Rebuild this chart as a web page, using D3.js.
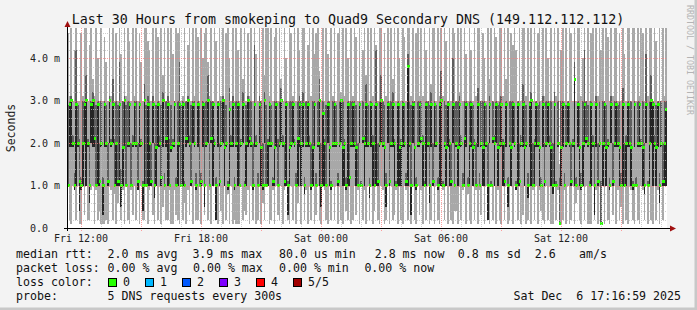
<!DOCTYPE html>
<html>
<head>
<meta charset="utf-8">
<title>Last 30 Hours from smokeping to Quad9 Secondary DNS</title>
<script src="https://cdn.jsdelivr.net/npm/d3@7"></script>
<style>
body { margin: 0; background: #f3f3f3; }
svg { display: block; font-family: "DejaVu Sans Mono", monospace; }
</style>
</head>
<body>
<script>
// five DNS requests per 5 minute step, round trip in ms (sorted per step below)
var ping1 = [
1.0,0.2,0.1,1.0,0.9,0.2,1.0,0.1,0.1,1.0,0.3,1.0,0.2,0.2,0.9,1.0,0.1,1.0,0.2,0.4,
0.1,0.1,0.1,0.2,0.1,1.0,0.9,0.2,1.0,0.1,0.6,1.0,0.2,0.9,0.1,1.0,0.2,0.1,1.0,0.3,
1.0,0.2,0.9,0.1,1.0,0.2,0.2,1.0,0.1,0.9,1.0,0.3,0.1,1.0,0.2,1.0,0.1,0.5,1.0,0.2,
0.2,1.0,0.1,0.1,0.9,1.0,0.2,0.1,1.0,0.2,1.0,0.1,0.9,0.3,1.0,0.1,1.0,0.2,0.2,1.0,
0.1,1.0,0.3,1.0,0.2,0.9,0.1,1.0,1.0,0.2,0.1,1.0,0.4,0.1,1.0,0.2,0.9,0.1,1.0,0.1,
0.2,0.1,0.1,0.1,1.0,0.2,1.0,0.3,0.9,0.1,1.0,0.2,1.0,0.1,0.2,1.0,0.1,0.9,0.2,1.0,
1.0,0.1,0.2,1.0,0.1,1.0,0.3,0.2,1.0,0.1,0.9,1.0,0.2,0.1,1.0,0.2,1.0,0.1,0.6,1.0,
0.1,1.0,0.2,0.9,0.1,1.0,0.2,1.0,0.1,0.3,1.0,0.2,0.1,1.0,0.9,0.2,0.1,1.0,0.2,1.0,
0.2,1.0,0.1,1.0,0.2,0.1,1.0,0.9,0.2,1.0,0.1,0.2,1.0,0.3,1.0,0.1,1.0,0.2,0.9,0.1,
1.0,0.2,1.0,0.1,0.4,1.0,0.2,0.1,1.0,0.9,0.1,0.2,1.0,0.1,1.0,0.2,0.3,1.0,0.1,1.0,
0.2,0.1,1.0,0.9,0.2,1.0,0.1,1.0,0.2,0.1,1.0,0.3,0.9,0.1,1.0,0.2,1.0,0.1,0.2,1.0,
0.1,1.0,0.2,0.1,1.0,0.9,0.2,1.0,0.1,1.0,0.2,0.1,1.0,0.4,0.1,1.0,0.2,0.9,1.0,0.1,
1.0,0.2,0.1,1.0,0.2,1.0,0.1,0.9,0.3,1.0,0.1,1.0,0.2,0.1,1.0,0.2,1.0,0.1,0.9,0.2,
0.1,1.0,0.2,1.0,0.1,0.2,1.0,0.1,1.0,0.9,0.2,1.0,0.1,0.3,1.0,0.1,0.2,1.0,0.1,1.0,
0.2,1.0,0.1,0.9,1.0,0.2,0.1,1.0,0.2,1.0,0.1,0.1,1.0,0.2,0.9,0.1,0.1,0.2,1.0,0.1,
1.0,0.1,0.2,1.0,0.1,1.0,0.9,0.2,0.1,1.0,0.2,1.0,0.1,0.1,0.1,1.0,0.2,0.9,0.1,1.0,
0.1,1.0,0.1,1.0,0.2,0.1,1.0,0.3,1.0,0.1,0.9,0.2,1.0,0.1,1.0,0.2,0.1,1.0,0.9,0.2,
0.1,1.0,0.2,0.1,1.0,0.9,0.2,1.0,0.1,1.0,0.2,0.1,1.0,0.2,0.9,0.1,1.0,0.2,1.0,1.0
];
var ping2 = [
1.0,1.9,1.9,1.9,0.9,1.0,1.9,0.4,0.9,1.0,2.0,1.0,1.9,0.6,2.0,1.9,1.9,0.9,1.0,1.0,
1.9,0.3,1.9,1.9,1.0,2.0,1.9,2.0,0.8,1.0,1.0,1.0,0.5,1.0,1.9,1.0,1.9,1.9,0.9,1.9,
2.0,1.9,0.9,1.9,1.9,0.4,1.0,1.0,1.0,1.0,1.0,2.0,0.7,1.0,1.9,1.9,1.0,1.9,0.9,1.9,
1.0,0.9,1.8,1.9,1.9,0.3,1.0,1.9,1.0,1.0,0.6,1.9,2.0,1.9,1.0,2.0,1.9,0.9,1.9,1.0,
1.0,1.9,0.5,1.9,2.0,1.0,2.0,1.0,1.9,0.2,1.9,1.0,1.9,2.0,1.0,1.9,0.8,1.0,1.9,1.9,
0.9,1.9,1.0,1.0,1.9,2.0,0.4,1.0,1.9,2.0,1.9,0.9,1.9,1.9,1.0,2.0,1.0,0.6,2.0,1.0,
1.0,1.9,1.9,0.9,1.0,1.9,1.0,1.9,2.0,1.9,1.0,1.0,0.3,1.0,1.9,2.0,1.9,1.0,1.0,1.9,
1.0,1.9,0.8,1.9,1.9,1.9,0.9,1.0,1.9,1.0,1.9,1.0,0.5,1.0,1.0,1.0,2.0,1.0,0.9,1.9,
1.9,1.9,1.0,1.9,2.0,1.0,1.0,0.4,1.0,1.0,1.9,1.9,1.9,1.0,0.9,2.0,1.0,2.0,1.0,1.9,
1.9,0.7,1.9,1.0,1.0,1.0,1.0,1.9,2.0,1.9,1.0,0.5,2.0,1.0,1.9,1.9,1.0,0.9,1.0,1.0,
1.0,1.9,1.9,1.0,1.0,1.9,0.3,2.0,1.0,0.9,1.9,1.9,2.0,1.0,1.0,1.0,1.9,0.6,1.9,1.0,
1.9,1.9,0.9,1.0,1.0,1.0,1.9,1.0,1.9,1.0,1.0,2.0,0.4,1.9,1.0,1.9,1.9,1.0,1.0,1.9,
0.8,1.0,1.9,1.0,1.9,0.9,1.9,1.0,1.9,1.0,1.0,1.9,0.2,2.0,1.0,2.0,1.0,2.0,1.0,1.9,
1.9,1.0,1.0,1.9,0.5,1.9,1.0,2.0,1.9,0.9,1.0,1.0,1.9,1.9,1.0,1.9,0.7,1.9,1.0,0.9,
1.0,1.9,1.9,1.0,0.4,1.9,1.0,1.9,2.0,1.9,1.0,0.8,1.0,1.0,1.9,0.1,1.0,1.9,0.9,1.9,
2.0,1.9,1.0,1.9,1.0,0.6,1.9,1.0,0.9,1.0,1.9,2.0,1.9,1.0,1.0,1.9,0.3,1.9,1.0,1.9,
0.1,1.0,1.9,1.0,1.9,0.9,2.0,1.0,1.9,1.9,1.9,1.0,0.5,1.0,1.0,1.0,1.9,1.9,1.0,0.9,
1.9,1.0,1.9,1.9,1.9,1.0,0.8,2.0,1.0,1.0,2.0,1.0,1.9,1.0,1.9,0.6,1.9,1.0,1.0,1.0
];
var ping3 = [
1.0,2.9,3.0,2.0,1.0,2.9,2.0,1.1,1.0,2.0,2.9,3.0,2.0,1.0,2.9,3.0,2.1,1.0,2.9,1.1,
2.0,1.0,2.9,2.0,1.1,3.0,2.0,2.9,1.0,2.0,1.1,2.9,1.0,1.9,3.0,1.0,2.0,2.9,1.0,2.0,
2.9,2.0,1.1,2.9,2.0,1.0,3.0,1.0,2.9,2.0,1.1,2.9,1.0,1.9,2.9,2.0,1.2,3.0,1.0,2.1,
2.9,1.0,1.9,2.0,2.9,1.0,2.0,2.9,1.0,2.9,1.0,2.1,3.0,2.0,1.1,2.9,2.0,1.0,2.9,1.0,
1.1,2.9,1.0,2.0,3.0,1.0,2.1,2.9,2.0,1.0,2.9,1.1,2.0,3.0,1.9,2.0,1.0,2.8,2.0,2.9,
1.0,2.0,2.9,1.0,2.0,2.9,1.0,2.0,3.0,2.1,2.0,1.0,2.9,2.0,1.0,2.9,1.9,1.0,3.0,1.0,
2.0,2.9,2.0,1.1,1.9,2.9,1.0,2.0,3.0,2.0,1.1,2.9,1.0,1.9,2.0,2.9,2.0,1.0,2.1,2.9,
2.0,2.9,1.0,2.0,2.9,2.0,1.0,1.9,2.9,1.0,2.0,3.0,1.0,2.7,2.0,1.0,2.9,1.9,1.0,2.0,
2.9,2.0,1.1,2.0,3.0,1.9,2.0,1.0,2.9,1.2,2.0,2.9,2.0,1.9,1.0,2.9,1.0,2.1,2.0,2.9,
2.0,1.0,2.9,2.0,1.0,2.9,1.1,2.0,3.0,2.0,1.9,1.0,2.9,1.1,2.0,2.9,2.0,1.0,2.9,1.9,
2.0,2.9,2.0,1.1,3.8,2.0,1.0,2.9,1.9,1.0,2.0,2.9,2.1,2.0,1.0,2.9,2.0,1.0,2.9,1.1,
2.9,2.0,1.0,2.9,3.0,1.0,2.0,1.9,2.9,2.0,1.1,2.9,1.0,2.0,1.9,2.9,2.0,1.0,2.1,2.9,
1.0,2.0,2.9,1.9,2.0,1.0,2.9,1.0,2.0,1.9,2.9,2.0,1.0,2.9,1.0,2.1,2.0,2.9,1.9,2.0,
2.9,2.0,1.1,2.9,1.0,2.0,1.9,2.9,2.0,1.0,2.9,1.1,2.0,2.9,1.9,2.0,1.0,2.9,3.0,1.0,
2.0,2.9,2.0,1.9,1.0,2.9,1.1,2.0,2.9,2.0,1.9,1.0,2.9,1.0,2.0,0.1,1.9,2.9,1.0,2.0,
2.9,2.0,1.1,2.0,3.5,1.0,2.9,1.9,1.0,2.0,2.9,2.1,2.0,1.0,2.9,2.0,1.0,2.9,1.1,2.0,
0.1,2.0,2.9,1.9,2.0,1.0,2.9,1.1,2.0,2.9,2.0,1.9,1.0,2.9,1.0,2.0,2.9,2.0,1.9,1.0,
2.9,1.0,2.0,2.9,2.0,1.9,1.0,2.9,1.0,2.0,3.0,2.9,2.0,1.9,2.9,1.0,2.0,1.1,2.0,2.8
];
var ping4 = [
2.9,3.0,3.1,2.2,1.3,4.2,2.9,2.1,1.2,3.0,3.0,3.6,2.1,2.0,3.0,3.2,3.0,2.9,3.0,2.0,
3.0,1.2,3.0,2.9,2.0,3.1,2.1,3.5,2.1,3.0,2.9,3.9,1.4,3.0,3.1,2.9,3.0,3.0,2.0,2.2,
3.0,3.0,2.0,3.0,2.1,1.1,3.4,2.9,4.4,3.0,2.0,3.1,2.0,2.9,3.0,2.2,2.9,3.2,1.3,3.0,
3.1,2.1,2.9,2.1,3.0,1.2,3.0,3.9,2.9,3.0,1.1,3.0,3.1,2.2,2.9,3.0,3.0,1.3,3.0,2.9,
1.3,4.0,2.9,3.0,3.6,2.0,3.0,3.0,2.1,1.2,3.0,2.0,3.0,3.1,3.0,2.9,1.1,3.3,2.2,3.1,
1.2,3.0,3.0,2.9,2.1,3.2,1.1,2.9,3.1,3.0,3.0,2.0,4.3,2.2,1.3,3.1,3.0,2.0,3.2,2.9,
2.1,3.0,2.9,1.2,3.0,3.0,2.1,3.0,3.3,2.2,2.0,3.0,1.1,3.0,3.0,3.0,2.1,1.3,3.0,3.1,
3.0,3.2,1.2,3.0,3.0,2.2,2.0,3.0,4.1,1.3,3.0,3.5,2.0,3.0,2.1,2.9,3.0,3.0,1.1,3.0,
3.0,2.9,1.3,3.0,3.2,3.0,2.1,1.2,3.0,2.9,3.0,3.1,3.0,2.9,2.0,3.0,1.1,3.0,2.2,3.4,
2.9,1.2,3.0,2.2,2.9,4.2,2.0,3.0,3.6,3.0,2.9,1.3,3.0,2.9,3.0,3.2,2.1,1.1,3.0,2.9,
2.1,3.0,2.9,1.3,4.1,3.0,2.9,3.0,3.0,1.2,3.0,3.1,3.0,2.2,1.1,3.0,3.0,2.9,3.2,2.0,
3.0,2.9,1.2,3.1,3.7,1.1,3.0,2.9,3.0,2.1,2.0,4.0,2.9,3.0,3.0,3.1,2.2,1.3,3.0,3.0,
1.2,3.0,3.0,2.9,2.1,2.0,3.3,1.3,3.0,3.0,3.0,2.9,2.0,3.1,1.1,3.0,2.2,3.0,2.9,3.0,
3.1,2.1,2.0,3.0,1.2,3.0,3.0,4.3,2.9,1.1,3.0,2.0,2.2,3.4,3.0,2.9,1.3,3.0,3.2,2.0,
2.1,3.0,2.9,3.0,1.2,3.1,2.0,3.0,3.0,2.2,3.0,2.0,3.2,1.1,3.0,1.2,3.0,3.0,1.3,2.9,
3.0,2.9,2.0,2.1,3.9,1.2,3.0,2.9,1.3,3.0,4.2,3.0,2.9,1.1,3.0,2.2,2.0,3.1,2.0,3.0,
1.1,3.0,3.0,2.9,2.1,1.2,3.1,2.0,3.0,3.0,2.9,3.0,1.3,3.3,2.0,2.2,3.0,2.9,3.0,1.1,
3.0,1.2,3.0,3.1,2.1,3.0,2.0,4.1,1.1,3.0,3.6,3.0,2.2,2.9,3.0,1.3,3.0,2.0,3.0,3.0
];
var ping5 = [
4.6,3.1,4.7,3.0,4.2,4.7,3.0,3.0,4.6,3.1,4.7,4.7,3.0,4.3,4.7,3.5,3.1,4.7,4.0,3.0,
4.7,3.0,4.5,3.9,3.0,4.7,3.1,4.7,3.0,4.6,3.0,4.7,4.1,3.0,4.7,3.1,4.7,4.4,3.0,4.7,
3.1,4.7,3.0,4.6,3.9,3.0,4.7,4.7,3.1,4.2,3.0,4.7,3.0,4.7,4.5,3.0,4.7,3.6,4.7,3.0,
4.7,3.0,4.7,4.1,3.0,4.7,4.6,4.7,3.0,3.1,4.7,3.0,4.3,4.7,3.0,4.7,3.1,4.7,4.5,3.0,
4.7,3.0,4.6,4.7,3.9,3.1,4.7,3.0,4.7,4.4,3.0,4.7,3.1,4.7,3.0,4.6,4.7,4.0,3.0,4.7,
3.0,4.7,4.2,3.0,4.7,3.5,4.7,3.0,4.6,3.1,4.7,3.0,4.7,4.1,3.0,4.7,3.0,4.7,3.6,4.7,
4.7,3.1,4.7,3.0,4.5,4.7,3.0,4.7,3.5,3.0,4.7,4.0,3.0,4.7,4.6,3.1,4.7,3.0,4.7,4.2,
3.0,4.7,4.7,3.0,4.3,4.7,3.1,4.7,3.0,4.6,4.7,3.7,3.0,4.7,3.0,4.7,4.1,3.0,4.7,3.1,
4.7,3.0,4.6,4.7,3.0,4.7,3.1,4.7,4.0,3.0,4.7,3.0,4.7,4.5,3.0,4.7,3.0,4.2,4.7,3.6,
4.7,3.0,4.7,3.1,4.7,4.3,3.0,4.7,4.7,3.0,4.6,3.1,4.7,3.0,4.7,3.5,4.7,3.0,4.7,4.0,
3.0,4.7,4.5,3.0,4.7,4.7,3.1,4.7,3.0,4.6,4.7,3.0,4.7,3.1,4.7,4.2,3.0,4.7,3.4,4.7,
4.7,3.0,4.7,3.0,4.7,3.1,4.7,4.4,3.0,4.7,3.0,4.7,4.6,3.0,4.7,3.2,4.7,3.0,4.7,4.1,
3.0,4.7,4.2,3.0,4.7,3.1,4.7,4.7,3.0,4.6,4.0,3.0,4.7,3.5,4.7,3.0,4.7,4.5,3.0,4.7,
4.7,3.1,4.7,3.5,4.7,3.0,4.6,3.0,4.7,4.2,3.0,4.7,3.0,4.7,4.7,3.1,4.7,3.0,4.7,3.0,
4.7,3.0,4.6,4.7,3.0,4.7,3.1,4.7,4.0,3.0,4.7,3.0,4.7,3.1,4.7,1.5,4.2,4.7,3.0,4.7,
3.0,4.7,4.6,3.0,4.7,3.0,4.7,4.7,3.1,4.0,4.7,3.0,4.7,3.0,4.6,4.7,3.0,4.7,3.1,4.7,
4.2,4.7,3.0,4.7,4.5,3.0,4.7,3.1,4.7,4.7,3.0,4.6,3.0,4.7,4.1,3.0,4.7,4.7,3.0,4.7,
4.7,3.0,4.7,3.0,4.7,4.6,3.0,4.7,3.1,4.7,4.7,3.0,4.7,4.4,3.0,4.7,3.0,4.7,3.1,4.7
];

var yTicks = [0, 1, 2, 3, 4];
var lossLabels = ["0", "1", "2", "3", "4", "5/5"];
var lossColors = ["#26ff00", "#00b8ff", "#0059ff", "#7e00ff", "#ff0000", "#a10000"];

var W = 697, H = 310;
var plotL = 67, plotR = 667, plotT = 28, plotB = 228;
var stepMs = 300 * 1000;
var t0 = Date.UTC(2025, 11, 5, 11, 18);
var t1 = t0 + 30 * 3600 * 1000;

var x = d3.scaleUtc().domain([t0, t1]).range([plotL, plotR]);
var y = d3.scaleLinear().domain([0, 4.71]).range([plotB, plotT]);

var rows = ping1.map(function(d, i) {
    var p = [ping1[i], ping2[i], ping3[i], ping4[i], ping5[i]].sort(d3.ascending);
    return {t: t0 + i * stepMs, p: p};
});

var svg = d3.select("body").append("svg")
    .attr("width", W).attr("height", H);

// frame
svg.append("rect").attr("width", W).attr("height", H).attr("fill", "#f3f3f3");
svg.append("line").attr("x1", 0).attr("x2", W).attr("y1", H - 1).attr("y2", H - 1)
    .attr("stroke", "#c8c8c8").attr("stroke-width", 3);
svg.append("line").attr("x1", W - 1).attr("x2", W - 1).attr("y1", 0).attr("y2", H)
    .attr("stroke", "#c8c8c8").attr("stroke-width", 3);

svg.append("rect").attr("x", plotL).attr("y", plotT)
    .attr("width", plotR - plotL).attr("height", plotB - plotT).attr("fill", "#ffffff");

svg.append("clipPath").attr("id", "plot").append("rect")
    .attr("x", plotL).attr("y", plotT).attr("width", plotR - plotL).attr("height", plotB - plotT);

var g = svg.append("g").attr("clip-path", "url(#plot)").attr("shape-rendering", "crispEdges");

function band(cls, color, lo, hi) {
    g.selectAll("rect." + cls).data(rows).enter().append("rect")
        .attr("class", cls)
        .attr("x", function(d) { return x(d.t); })
        .attr("width", function(d) { return x(d.t + stepMs) - x(d.t); })
        .attr("y", function(d) { return y(hi(d)); })
        .attr("height", function(d) { return Math.max(0, y(lo(d)) - y(hi(d))); })
        .attr("fill", color);
}
band("s1", "#a8a8a8", function(d) { return d.p[0]; }, function(d) { return d.p[4]; });
band("s2", "#5e5e5e", function(d) { return d.p[1]; }, function(d) { return d.p[3]; });
band("s3", "#242424", function(d) { return d.p[1]; }, function(d) { return d.p[2]; });

// median, coloured by loss (no loss here)
g.selectAll("rect.med").data(rows).enter().append("rect")
    .attr("class", "med")
    .attr("x", function(d) { return x(d.t); })
    .attr("width", function(d) { return x(d.t + stepMs) - x(d.t) + 1; })
    .attr("y", function(d) { return y(d.p[2]) - 1.5; })
    .attr("height", 3)
    .attr("fill", lossColors[0]);

// grid
var grid = svg.append("g").attr("shape-rendering", "crispEdges");
var minorY = d3.range(0.2, 4.71, 0.2).filter(function(v) { return Math.abs(v - Math.round(v)) > 0.01; });
grid.selectAll("line.my").data(minorY).enter().append("line")
    .attr("x1", plotL).attr("x2", plotR)
    .attr("y1", function(d) { return Math.round(y(d)) + 0.5; })
    .attr("y2", function(d) { return Math.round(y(d)) + 0.5; })
    .attr("stroke", "rgba(190,190,190,0.75)").attr("stroke-dasharray", "1,1");
var hours = x.ticks(d3.utcHour.every(1)).filter(function(t) { return t.getUTCHours() % 3 !== 0; });
grid.selectAll("line.mx").data(hours).enter().append("line")
    .attr("x1", function(d) { return Math.round(x(d)) + 0.5; })
    .attr("x2", function(d) { return Math.round(x(d)) + 0.5; })
    .attr("y1", plotT).attr("y2", plotB + 2)
    .attr("stroke", "rgba(190,190,190,0.75)").attr("stroke-dasharray", "1,1");
grid.selectAll("line.Y").data(yTicks.slice(1)).enter().append("line")
    .attr("x1", plotL).attr("x2", plotR)
    .attr("y1", function(d) { return Math.round(y(d)) + 0.5; })
    .attr("y2", function(d) { return Math.round(y(d)) + 0.5; })
    .attr("stroke", "rgba(255,120,120,0.7)").attr("stroke-dasharray", "1,1");
var majors = x.ticks(d3.utcHour.every(3));
grid.selectAll("line.X").data(majors).enter().append("line")
    .attr("x1", function(d) { return Math.round(x(d)) + 0.5; })
    .attr("x2", function(d) { return Math.round(x(d)) + 0.5; })
    .attr("y1", plotT).attr("y2", plotB + 3)
    .attr("stroke", "rgba(255,120,120,0.7)").attr("stroke-dasharray", "1,1");

// axes
svg.append("line").attr("x1", plotL - 3).attr("x2", plotR + 4)
    .attr("y1", plotB + 0.5).attr("y2", plotB + 0.5).attr("stroke", "#000");
svg.append("line").attr("x1", plotL + 0.5).attr("x2", plotL + 0.5)
    .attr("y1", plotB + 3).attr("y2", plotT - 3).attr("stroke", "#000");
svg.append("path").attr("d", "M" + (plotR + 3) + "," + (plotB - 2.5) + "L" + (plotR + 9) + "," + (plotB + 0.5) + "L" + (plotR + 3) + "," + (plotB + 3.5) + "Z")
    .attr("fill", "#a01010");
svg.append("path").attr("d", "M" + (plotL - 2.5) + "," + (plotT - 1) + "L" + (plotL + 0.5) + "," + (plotT - 7) + "L" + (plotL + 3.5) + "," + (plotT - 1) + "Z")
    .attr("fill", "#a01010");

svg.selectAll("text.yl").data(yTicks).enter().append("text")
    .attr("x", 30).attr("y", function(d) { return y(d) + 3.5; })
    .attr("font-size", 10).attr("fill", "#222")
    .text(function(d) { return d === 0 ? "0.0" : d.toFixed(1) + " m"; });

var fmt = d3.utcFormat("%a %H:%M");
svg.selectAll("text.xl").data(x.ticks(d3.utcHour.every(6))).enter().append("text")
    .attr("x", function(d) { return x(d); }).attr("y", 241.5)
    .attr("text-anchor", "middle").attr("font-size", 10).attr("fill", "#222")
    .text(function(d) { return fmt(d); });

svg.append("text").attr("transform", "translate(15,128) rotate(-90)")
    .attr("text-anchor", "middle").attr("font-size", 11.5).attr("fill", "#222")
    .text("Seconds");

svg.append("text").attr("x", 348).attr("y", 24).attr("text-anchor", "middle")
    .attr("font-size", 13.3).attr("fill", "#111")
    .text("Last 30 Hours from smokeping to Quad9 Secondary DNS (149.112.112.112)");

svg.append("text").attr("transform", "translate(687,5) rotate(90)")
    .attr("font-size", 8.3).attr("fill", "#b4b4b4")
    .text("RRDTOOL / TOBI OETIKER");

// legend
var legend = [
    [16, 258, "median rtt:"], [107.6, 258, "2.0 ms avg"], [192.4, 258, "3.9 ms max"],
    [279, 258, "80.0 us min"], [374.7, 258, "2.8 ms now"], [457.8, 258, "0.8 ms sd"],
    [534.7, 258, "2.6"], [579, 258, "am/s"],
    [16, 272, "packet loss:"], [107.6, 272, "0.00 % avg"], [193, 272, "0.00 % max"],
    [279, 272, "0.00 % min"], [364.4, 272, "0.00 % now"],
    [16, 286, "loss color:"],
    [16, 300, "probe:"], [107.6, 300, "5 DNS requests every 300s"]
];
svg.selectAll("text.lg").data(legend).enter().append("text")
    .attr("x", function(d) { return d[0]; }).attr("y", function(d) { return d[1]; })
    .attr("font-size", 11.6).attr("fill", "#111")
    .attr("xml:space", "preserve")
    .text(function(d) { return d[2]; });

svg.append("text").attr("x", 681).attr("y", 300).attr("text-anchor", "end")
    .attr("font-size", 11.6).attr("fill", "#111").attr("xml:space", "preserve")
    .text("Sat Dec  6 17:16:59 2025");

var lossX = d3.scaleLinear().domain([0, 1]).range([108.5, 145.5]);
svg.selectAll("rect.lc").data(lossLabels).enter().append("rect")
    .attr("x", function(d, i) { return lossX(i); }).attr("y", 278.5)
    .attr("width", 8).attr("height", 8)
    .attr("fill", function(d, i) { return lossColors[i]; })
    .attr("stroke", "#000").attr("stroke-width", 1);
svg.selectAll("text.lc").data(lossLabels).enter().append("text")
    .attr("x", function(d, i) { return lossX(i) + 14.5; }).attr("y", 286)
    .attr("font-size", 11.6).attr("fill", "#111")
    .text(function(d) { return d; });
</script>
</body>
</html>
